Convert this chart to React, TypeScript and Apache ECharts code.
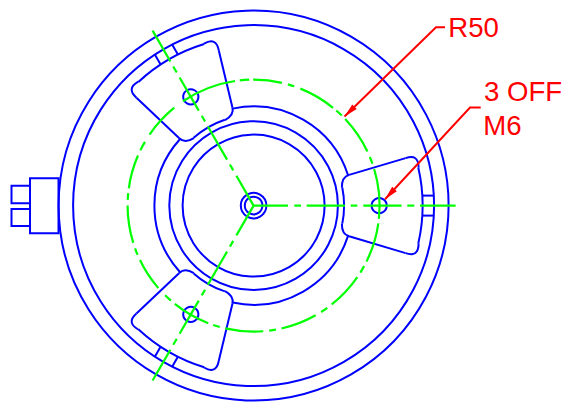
import React, { useEffect, useRef } from "react";
import * as echarts from "echarts";

const WIDTH = 564;
const HEIGHT = 403;
const BLUE = "#0000ff";
const GREEN = "#00ff00";
const RED = "#ff0000";
const BLUE_W = 2;
const GREEN_W = 2.2;
const RED_W = 2;

const centre = [253.6, 205.6];
const armAngles = [0, 120, 240];

// [radius]
const ringRadii = [195, 180.5, 84.3, 71, 12.8, 8.8];
const holeRadius = 7.6;
const holePitchRadius = 125.6;

// [radius, start deg, end deg] (counter-clockwise degrees, drawn clockwise)
const brokenRing = [
  [99.2, 102.2, 17.8],
  [99.2, 222.2, 137.8],
  [99.2, 342.2, 257.8],
];

// green pitch circle: [start deg, end deg]
const pitchRadius = 126;
const pitchDashes = [
  [90.2, 77], [74.2, 71.2], [68.2, 50.9], [49, 45.6], [43.4, 25.4], [22.7, 19.4],
  [16.9, -6.1], [-8.1, -26.4], [-28.7, -32.1], [-34.6, -51.7], [-54.2, -57.6], [-60.5, -77.2],
  [-79.8, -82.9], [-85.6, -103], [-105.6, -108.7], [-111.1, -128.7], [-131, -134.6],
  [-139.1, -154.4], [-157, -160.2], [-162.8, -180], [-182.6, -185.7], [-187.9, -203.4],
  [-206, -210.4], [-214.3, -231], [-235.9, -261.5], [-263.7, -268],
];

// centre lines, distance from centre: [from, to]
const axisDashes = [
  [0, 34.4], [40.7, 47.4], [53.1, 91.4], [97.1, 103.7], [109.7, 148], [153.7, 160.7], [166.4, 202],
];

// clamp plate, in a frame pointing along its arm: [u, v] pairs
const plateEdge = [95.5, 30.7, 152, 47.5];
const plateOuterCorner = [152, 47.5, 165, 52, 165, 38];
const plateInnerCorner = [95.5, 30.7, 88, 28.5, 88.3, 18];
const plateOuterArc = [169, 13];
const plateInnerArc = [90.5, 11.5];
const tab = [169, 10, 180.5, 10];

// left connector: [x, y, w, h]
const connectorBoxes = [
  [30, 178.3, 28.5, 55],
  [11.5, 185.7, 18.5, 17.6],
  [11.5, 209, 18.5, 17],
];

// leaders: [x0, y0, x1, y1, tipX, tipY]
const leaders = [
  [445, 27.3, 436, 27.3, 344.5, 116.5],
  [480.7, 107.5, 470, 107.5, 385, 199.3],
];

const labels = ["R50", "3 OFF", "M6"];
const labelX = [448.3, 484, 483.3];
const labelY = [27.5, 91.3, 125];

const rad = (d: number) => (d * Math.PI) / 180;

function local(u: number, v: number, angle: number) {
  const c = Math.cos(rad(angle));
  const s = Math.sin(rad(angle));
  return [centre[0] + u * c + v * s, centre[1] - u * s + v * c];
}

const line = (api: any, a: number[], b: number[], stroke: string, lineWidth: number) => ({
  type: "line",
  shape: (() => {
    const p = api.coord(a);
    const q = api.coord(b);
    return { x1: p[0], y1: p[1], x2: q[0], y2: q[1] };
  })(),
  style: { stroke, lineWidth, fill: null },
});

const arc = (api: any, r: number, from: number, to: number, stroke: string, lineWidth: number) => {
  const c = api.coord(centre);
  return {
    type: "arc",
    shape: {
      cx: c[0],
      cy: c[1],
      r: api.size([r, 0])[0],
      startAngle: -rad(from),
      endAngle: -rad(to),
      clockwise: true,
    },
    style: { stroke, lineWidth, fill: null },
  };
};

const curve = (api: any, row: number[], sign: number, angle: number) => {
  const p = api.coord(local(row[0], sign * row[1], angle));
  const k = api.coord(local(row[2], sign * row[3], angle));
  const q = api.coord(local(row[4], sign * row[5], angle));
  return {
    type: "bezierCurve",
    shape: { x1: p[0], y1: p[1], cpx1: k[0], cpy1: k[1], x2: q[0], y2: q[1] },
    style: { stroke: BLUE, lineWidth: BLUE_W, fill: null },
  };
};

const custom = (data: any[], renderItem: any) => ({
  type: "custom",
  coordinateSystem: "cartesian2d",
  clip: false,
  silent: true,
  data,
  renderItem,
});

const holeRows = armAngles.map((a) => [...local(holePitchRadius, 0, a), holeRadius]);

export default function App() {
  const ref = useRef<HTMLDivElement>(null);
  useEffect(() => {
    document.body.style.margin = "0";
    const chart = echarts.init(ref.current!, undefined, { renderer: "svg" });
    const axis = { type: "value", show: false, scale: false };
    chart.setOption({
      animation: false,
      backgroundColor: "#ffffff",
      grid: { left: 0, right: 0, top: 0, bottom: 0 },
      xAxis: { ...axis, min: 0, max: WIDTH },
      yAxis: { ...axis, min: 0, max: HEIGHT, inverse: true },
      series: [
        // rings and holes
        custom(
          [...ringRadii.map((r) => [centre[0], centre[1], r]), ...holeRows],
          (_: any, api: any) => {
            const c = api.coord([api.value(0), api.value(1)]);
            return {
              type: "circle",
              shape: { cx: c[0], cy: c[1], r: api.size([api.value(2), 0])[0] },
              style: { stroke: BLUE, lineWidth: BLUE_W, fill: null },
            };
          }
        ),
        // ring interrupted by the plates
        custom(brokenRing, (_: any, api: any) =>
          arc(api, api.value(0), api.value(1), api.value(2), BLUE, BLUE_W)
        ),
        // plates and tabs
        custom(armAngles.map((a) => [a]), (_: any, api: any) => {
          const a = api.value(0);
          const children: any[] = [
            arc(api, plateOuterArc[0], a + plateOuterArc[1], a - plateOuterArc[1], BLUE, BLUE_W),
            arc(api, plateInnerArc[0], a + plateInnerArc[1], a - plateInnerArc[1], BLUE, BLUE_W),
          ];
          [1, -1].forEach((s) => {
            children.push(
              line(api, local(plateEdge[0], s * plateEdge[1], a), local(plateEdge[2], s * plateEdge[3], a), BLUE, BLUE_W),
              line(api, local(tab[0], s * tab[1], a), local(tab[2], s * tab[3], a), BLUE, BLUE_W),
              curve(api, plateOuterCorner, s, a),
              curve(api, plateInnerCorner, s, a)
            );
          });
          return { type: "group", children };
        }),
        // connector
        custom(connectorBoxes, (_: any, api: any) => {
          const p = api.coord([api.value(0), api.value(1)]);
          const s = api.size([api.value(2), api.value(3)]);
          return {
            type: "rect",
            shape: { x: p[0], y: p[1], width: s[0], height: s[1] },
            style: { stroke: BLUE, lineWidth: BLUE_W, fill: null },
          };
        }),
        // pitch circle
        custom(pitchDashes, (_: any, api: any) =>
          arc(api, pitchRadius, api.value(0), api.value(1), GREEN, GREEN_W)
        ),
        // centre lines
        custom(
          armAngles.flatMap((a) => axisDashes.map((d) => [d[0], d[1], a])),
          (_: any, api: any) =>
            line(api, local(api.value(0), 0, api.value(2)), local(api.value(1), 0, api.value(2)), GREEN, GREEN_W)
        ),
        // leaders with arrowheads
        custom(leaders, (_: any, api: any) => {
          const pts = [0, 1, 2].map((i) => api.coord([api.value(i * 2), api.value(i * 2 + 1)]));
          const [tx, ty] = pts[2];
          const dx = pts[1][0] - tx;
          const dy = pts[1][1] - ty;
          const len = Math.hypot(dx, dy);
          const ux = dx / len;
          const uy = dy / len;
          const bx = tx + ux * 14;
          const by = ty + uy * 14;
          return {
            type: "group",
            children: [
              { type: "polyline", shape: { points: pts }, style: { stroke: RED, lineWidth: RED_W, fill: null } },
              {
                type: "polygon",
                shape: {
                  points: [
                    [tx, ty],
                    [bx - uy * 3.2, by + ux * 3.2],
                    [bx + uy * 3.2, by - ux * 3.2],
                  ],
                },
                style: { fill: RED, stroke: null },
              },
            ],
          };
        }),
        // labels
        custom(labels.map((_, i) => [labelX[i], labelY[i], i]), (_: any, api: any) => {
          const p = api.coord([api.value(0), api.value(1)]);
          return {
            type: "text",
            x: p[0],
            y: p[1],
            style: {
              text: labels[api.value(2)],
              fill: RED,
              font: '27.6px "Liberation Sans", Arial, sans-serif',
              textAlign: "left",
              textVerticalAlign: "middle",
            },
          };
        }),
      ],
    });
    return () => chart.dispose();
  }, []);
  return <div ref={ref} style={{ width: WIDTH, height: HEIGHT }} />;
}
